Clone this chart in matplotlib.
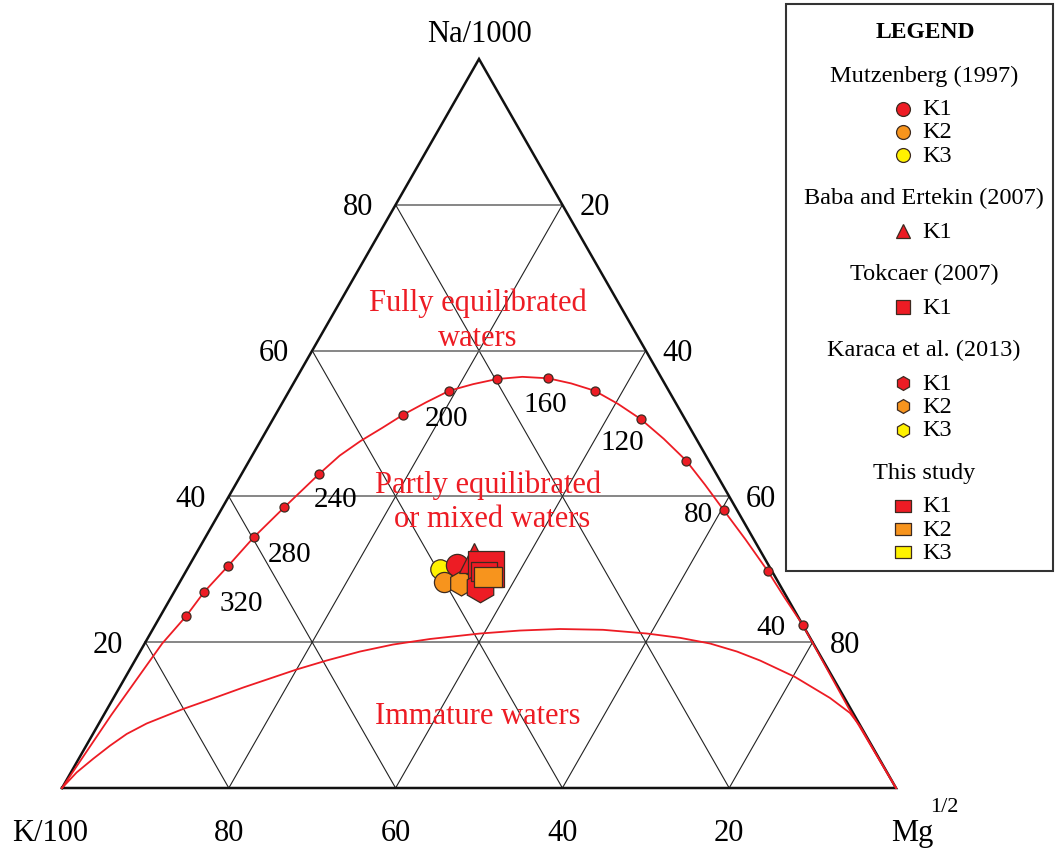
import numpy as np
import matplotlib.pyplot as plt
from matplotlib.patches import Rectangle

plt.rcParams['font.family'] = ['Liberation Serif', 'DejaVu Serif']

# ternary values in %: Na/1000 and Mg^1/2 (K/100 = 100 - Na - Mg)
# full equilibrium line
eq_na = [0, 10.0, 19.8, 23.6, 26.9, 30.5, 34.4, 38.5, 43.1, 45.6, 47.6, 49.4, 51.2,
         52.9, 54.5, 55.4, 56.1, 56.4, 56.2, 55.5, 54.5, 52.7, 50.6, 47.9, 44.9,
         41.6, 38.1, 34.1, 29.8, 26.1, 22.4, 11.0, 0]
eq_mg = [0, 0.9, 2.1, 3.1, 3.6, 4.7, 5.8, 7.4, 9.3, 10.5, 12.0, 13.7, 15.3,
         17.2, 19.2, 21.6, 24.1, 27.0, 30.2, 33.3, 36.6, 40.3, 44.1, 48.2, 52.4,
         56.3, 60.3, 64.9, 69.7, 73.6, 77.6, 88.8, 100]

# temperature dots on the equilibrium line
dot_temp = [340, 320, 300, 280, 260, 240, 220, 200, 180, 160, 140, 120, 100, 80, 60, 40]
dot_na = [23.6, 26.9, 30.5, 34.4, 38.5, 43.1, 51.2, 54.5, 56.1, 56.2, 54.5, 50.6, 44.9, 38.1, 29.8, 22.4]
dot_mg = [3.1, 3.6, 4.7, 5.8, 7.4, 9.3, 15.3, 19.2, 24.1, 30.2, 36.6, 44.1, 52.4, 60.3, 69.7, 77.6]
temp_labels = [320, 280, 240, 200, 160, 120, 80, 40]

# immature waters line
im_na = [0, 2.14, 4.02, 5.80, 7.41, 8.85, 10.77, 12.14, 13.79, 16.26, 17.49, 18.72,
         19.68, 20.44, 21.19, 21.60, 21.81, 21.70, 21.19, 20.60, 19.82, 18.72, 17.49,
         15.23, 12.35, 10.29, 8.50, 6.58, 4.66, 2.33, 0]
im_mg = [0, 0.69, 1.74, 2.85, 4.05, 5.73, 8.97, 11.68, 14.85, 20.01, 22.99, 26.37,
         29.85, 33.91, 39.52, 44.11, 48.81, 54.02, 59.55, 63.80, 67.79, 71.57, 74.95,
         80.28, 85.91, 89.34, 91.43, 93.35, 95.27, 97.64, 100]

# samples
groups = ['Mutzenberg (1997)', 'Baba and Ertekin (2007)', 'Tokcaer (2007)',
          'Karaca et al. (2013)', 'This study']
group_wells = [['K1', 'K2', 'K3'], ['K1'], ['K1'], ['K1', 'K2', 'K3'], ['K1', 'K2', 'K3']]
mutz_na = [30.6, 28.3, 30.0]
mutz_mg = [32.1, 31.6, 30.3]
baba_na = [31.5]
baba_mg = [33.7]
tok_na = [30.0]
tok_mg = [35.8]
kar_na = [27.6, 28.1, 28.4]
kar_mg = [36.3, 33.8, 34.7]
this_na = [29.7, 29.0, 29.1]
this_mg = [35.8, 36.6, 36.5]

red = '#ed1c24'
orange = '#f7941d'
yellow = '#fff200'
edge = '#3c2a20'
well_col = {'K1': red, 'K2': orange, 'K3': yellow}
rect = [(-1, -0.72), (1, -0.72), (1, 0.72), (-1, 0.72), (-1, -0.72)]
group_marker = ['o', '^', 's', 'h', rect]


def tern(na, mg):
    na = np.asarray(na) / 100.0
    mg = np.asarray(mg) / 100.0
    return mg + na / 2, na


def px(x, y):
    return (x - 62) / 834.0, (789 - y) / 729.0


fig = plt.figure(figsize=(10.56, 8.54), dpi=100)
ax = fig.add_axes([0, 0, 1, 1])
ax.set_xlim(-62 / 834.0, (1056 - 62) / 834.0)
ax.set_ylim(-65 / 729.0, 789 / 729.0)
ax.axis('off')

# grid
for v in [20, 40, 60, 80]:
    x, y = tern([v, v], [0, 100 - v])
    ax.plot(x, y, color='#666666', lw=1.1, zorder=1)
    x, y = tern([100 - v, 0], [0, 100 - v])
    ax.plot(x, y, color='#222222', lw=0.8, zorder=1)
    x, y = tern([100 - v, 0], [v, v])
    ax.plot(x, y, color='#222222', lw=0.8, zorder=1)
x, y = tern([0, 0, 100, 0], [0, 100, 0, 0])
ax.plot(x, y, color='#111111', lw=1.8, zorder=2, solid_joinstyle='miter')

# tick labels
fs = 22
for v in [20, 40, 60, 80]:
    x, y = tern(v, 0)
    ax.text(x - 38 / 834.0, y - 2 / 729.0, str(v), fontsize=fs, ha='center', va='center')
    x, y = tern(100 - v, v)
    ax.text(x + 32 / 834.0, y - 2 / 729.0, str(v), fontsize=fs, ha='center', va='center')
    x, y = tern(0, 100 - v)
    ax.text(x, y - 45 / 729.0, str(v), fontsize=fs, ha='center', va='center')
ax.text(*px(479, 34), 'Na/1000', fontsize=fs, ha='center', va='center')
ax.text(*px(50, 834), 'K/100', fontsize=fs, ha='center', va='center')
ax.text(*px(912, 834), 'Mg', fontsize=fs, ha='center', va='center')
ax.text(*px(944, 808), '1/2', fontsize=16, ha='center', va='center')

# curves
x, y = tern(eq_na, eq_mg)
ax.plot(x, y, color=red, lw=1.3, zorder=3, solid_joinstyle='round')
x, y = tern(im_na, im_mg)
ax.plot(x, y, color=red, lw=1.3, zorder=3, solid_joinstyle='round')
x, y = tern(dot_na, dot_mg)
ax.plot(x, y, 'o', ms=6.5, mfc=red, mec=edge, mew=0.9, zorder=4)

label_pos = {320: (241, 604), 280: (290, 555), 240: (336, 500), 200: (447, 419),
             160: (545, 405), 120: (622, 443), 80: (698, 515), 40: (771, 628)}
for t in temp_labels:
    ax.text(*px(*label_pos[t]), str(t), fontsize=21, ha='center', va='center', zorder=5)

# field names
for txt, pos in [('Fully equilibrated', (478, 303)), ('waters', (478, 338)),
                 ('Partly equilibrated', (488, 485)), ('or mixed waters', (492, 520)),
                 ('Immature waters', (478, 717))]:
    ax.text(*px(*pos), txt, fontsize=22, color=red, ha='center', va='center', zorder=5)


# samples (drawing order follows overlap in the figure)
def put(na, mg, i, gi, ms):
    x, y = tern([na[i]], [mg[i]])
    ax.plot(x, y, ls='none', marker=group_marker[gi], ms=ms,
            mfc=well_col[group_wells[gi][i]], mec=edge, mew=0.9, zorder=6)


put(mutz_na, mutz_mg, 2, 0, 14)
put(mutz_na, mutz_mg, 0, 0, 16)
put(mutz_na, mutz_mg, 1, 0, 14.5)
put(kar_na, kar_mg, 2, 3, 17)
put(kar_na, kar_mg, 1, 3, 18)
put(baba_na, baba_mg, 0, 1, 21)
put(tok_na, tok_mg, 0, 2, 26)
put(kar_na, kar_mg, 0, 3, 22)
put(this_na, this_mg, 2, 4, 19)
put(this_na, this_mg, 0, 4, 19)
put(this_na, this_mg, 1, 4, 20)

# legend box
fig.patches.append(Rectangle((786 / 1056.0, (854 - 572) / 854.0), 267 / 1056.0, 567 / 854.0,
                             transform=fig.transFigure, fill=False, ec='#333333', lw=1.5))
ax.text(*px(925, 33), 'LEGEND', fontsize=17, fontweight='bold', ha='center', va='center')
yy = 76
for gi, g in enumerate(groups):
    ax.text(*px(924, yy), g, fontsize=17.5, ha='center', va='center')
    yy += 33.5
    for w in group_wells[gi]:
        mx, my = px(903, yy)
        ax.plot([mx], [my], ls='none', marker=group_marker[gi], ms=10 if gi != 4 else 12,
                mfc=well_col[w], mec=edge, mew=0.9)
        ax.text(*px(922, yy), w, fontsize=17.5, ha='left', va='center')
        yy += 23.3
    yy += 42.5 - 23.3

fig.savefig('out.png', dpi=100)
